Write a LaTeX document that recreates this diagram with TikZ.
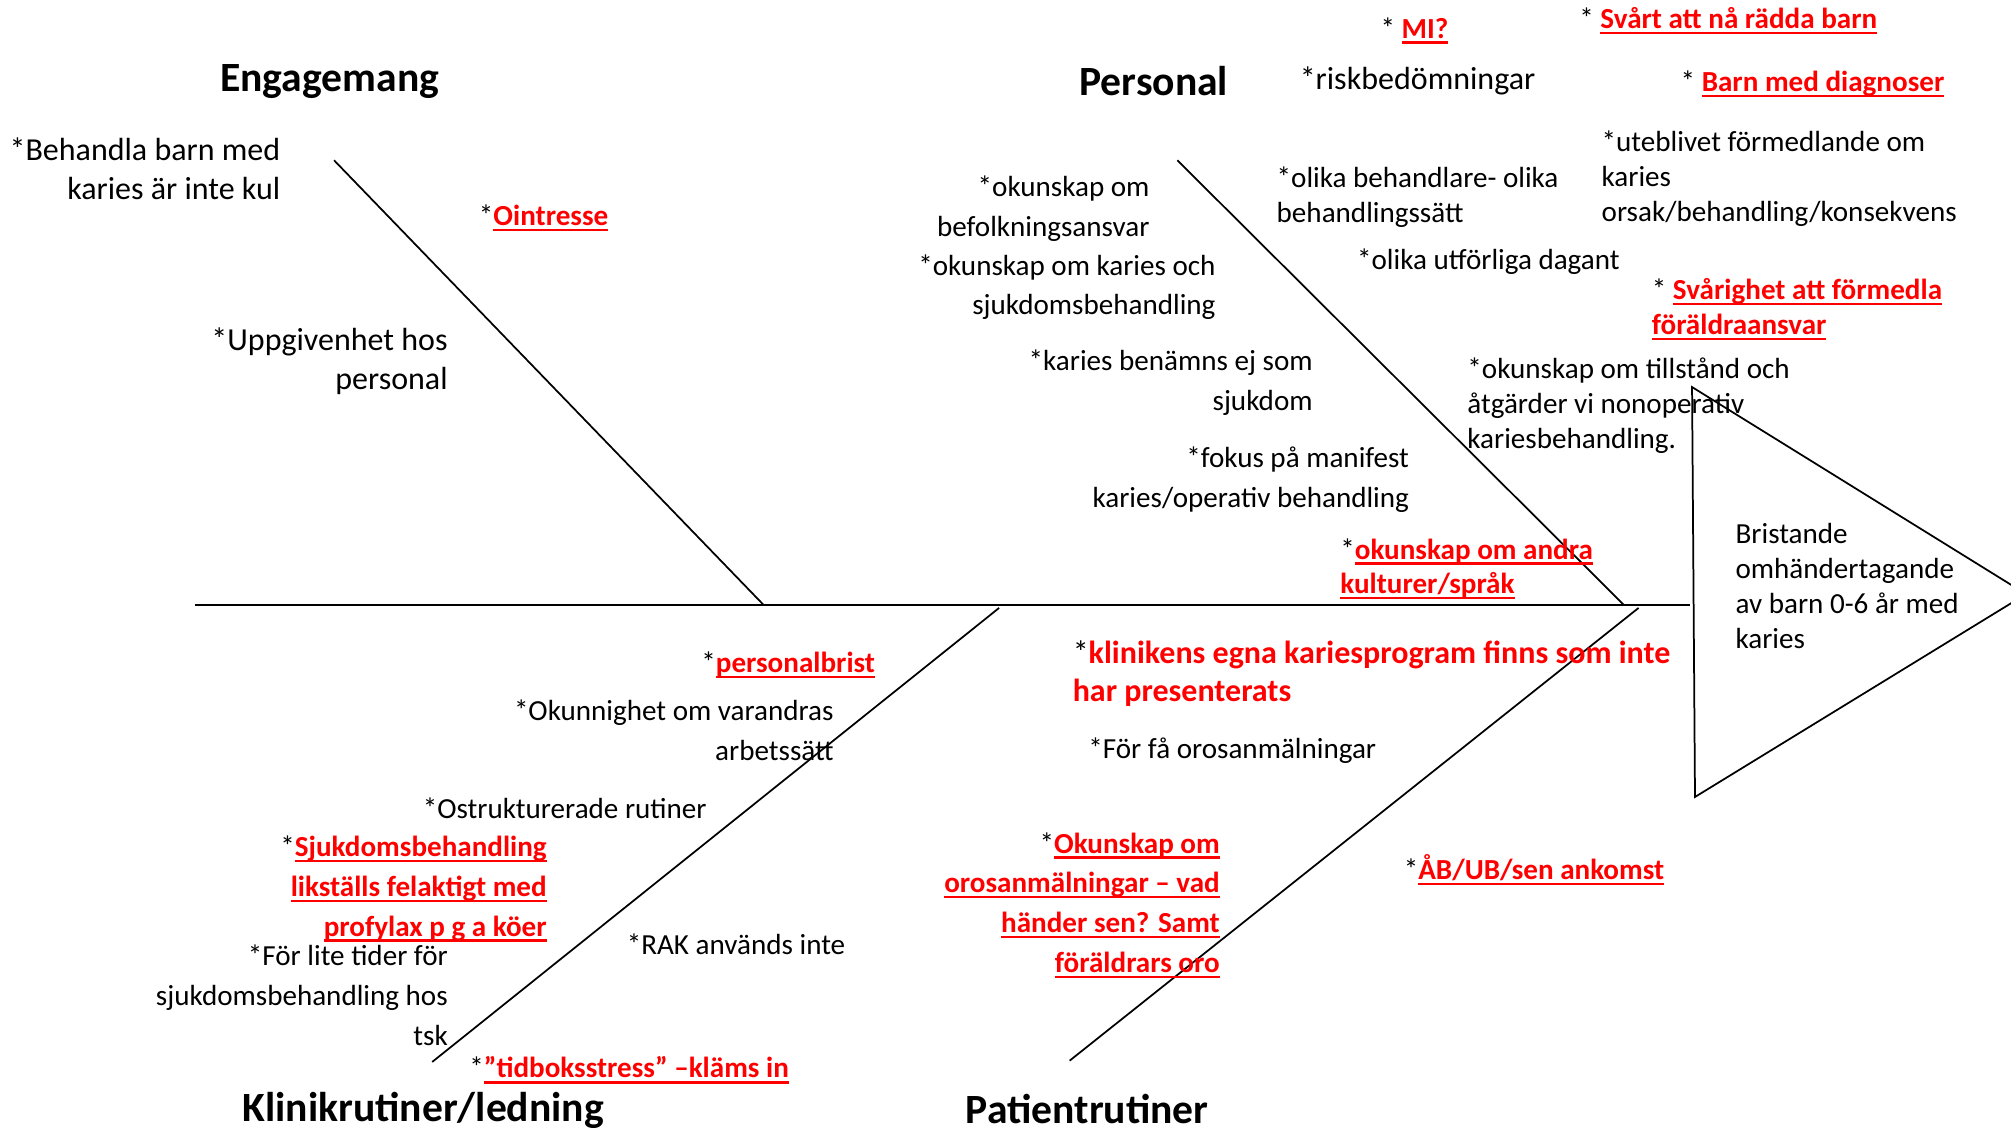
\documentclass[tikz,border=0pt]{standalone}
\usepackage{fontspec}
\setmainfont{Carlito}
\usetikzlibrary{positioning}
\definecolor{myred}{RGB}{255,0,0}
\newsavebox{\redubox}
\newcommand{\redu}[1]{{\color{myred}\bfseries\sbox{\redubox}{#1}\rlap{\rule[-1.9pt]{\wd\redubox}{0.8pt}}\usebox{\redubox}}}

\begin{document}
\begin{tikzpicture}[x=0.4407pt, y=-0.4407pt,
    bone/.style={line width=0.6pt},
    lcause/.style={anchor=base west, align=left, inner sep=0pt, font=\fontsize{10}{13.7}\selectfont},
    rcause/.style={anchor=base east, align=right, inner sep=0pt, font=\fontsize{10}{13.7}\selectfont},
    tight/.style={font=\fontsize{10}{12}\selectfont},
    large/.style={font=\fontsize{11}{13.4}\selectfont},
    category/.style={anchor=base, inner sep=0pt, font=\bfseries\fontsize{14.3}{17}\selectfont}]
    \clip (0,0) rectangle (1568,881);
    % (multi-line causes are placed by the baseline of their last line)

    % Spine and head
    \coordinate (tail) at (152,472);
    \coordinate (head) at (1318,472);
    \coordinate (tri-a) at (1319.3,301.8);
    \coordinate (tri-b) at (1321.6,621.4);
    \coordinate (tri-tip) at (1579.7,463.2);
    \draw[bone] (tail) -- (head);
    \draw[bone] (tri-a) -- (tri-tip) -- (tri-b) -- cycle;
    \node[lcause, tight] (bristande) at (1352.8,505.5) {Bristande\\omhändertagande\\av barn 0-6 år med\\karies};

    % Bones
    \coordinate (eng-top) at (260.5,125);
    \coordinate (eng-foot) at (595.7,472);
    \coordinate (pers-top) at (918,125);
    \coordinate (pers-foot) at (1266.5,472);
    \coordinate (klin-foot) at (779,474);
    \coordinate (klin-end) at (337,828);
    \coordinate (pat-foot) at (1277.6,474);
    \coordinate (pat-end) at (834,827);
    \draw[bone] (eng-top) -- (eng-foot);
    \draw[bone] (pers-top) -- (pers-foot);
    \draw[bone] (klin-foot) -- (klin-end);
    \draw[bone] (pat-foot) -- (pat-end);

    % Engagemang
    \node[category] (engagemang) at (257,71.6) {Engagemang};
    \node[rcause, large] (behandla) at (219,155.5) {*Behandla barn med\\karies är inte kul};
    \node[lcause] (ointresse) at (373,176) {*\redu{Ointresse}};
    \node[rcause, large] (uppgivenhet) at (349.5,303.8) {*Uppgivenhet hos\\personal};

    % Personal
    \node[category] (personal) at (899.6,74.6) {Personal};
    \node[lcause] (mi) at (1076,29.8) {* \redu{MI?}};
    \node[lcause, large] (risk) at (1013,70) {*riskbedömningar};
    \node[lcause] (svart) at (1231,22.4) {* \redu{Svårt att nå rädda barn}};
    \node[lcause] (diagnoser) at (1310,71.6) {* \redu{Barn med diagnoser}};
    \node[lcause, tight] (uteblivet) at (1248.4,172.5) {*uteblivet förmedlande om\\karies\\orsak/behandling/konsekvens};
    \node[rcause] (befolkning) at (896.7,184.5) {*okunskap om\\befolkningsansvar};
    \node[rcause] (kariesoch) at (948.2,245.6) {*okunskap om karies och\\sjukdomsbehandling};
    \node[lcause, tight] (behandlare) at (995,173.1) {*olika behandlare- olika\\behandlingssätt};
    \node[lcause] (dagant) at (1057.7,210.4) {*olika utförliga dagant};
    \node[lcause, tight] (svarighet) at (1287.5,261.1) {* \redu{Svårighet att förmedla}\\\redu{föräldraansvar}};
    \node[rcause] (benamns) at (1023.9,319.7) {*karies benämns ej som\\sjukdom};
    \node[lcause, tight] (tillstand) at (1143.7,349.7) {*okunskap om tillstånd och\\åtgärder vi nonoperativ\\kariesbehandling.};
    \node[rcause] (fokus) at (1099,395.4) {*fokus på manifest\\karies/operativ behandling};
    \node[lcause, tight] (kulturer) at (1044.7,463.1) {*\redu{okunskap om andra}\\\redu{kulturer/språk}};

    % Klinikrutiner/ledning
    \node[category] (klinik) at (330,874.5) {Klinikrutiner/ledning};
    \node[rcause] (personalbrist) at (682.7,524.5) {*\redu{personalbrist}};
    \node[rcause] (varandras) at (650.4,592.6) {*Okunnighet om varandras\\arbetssätt};
    \node[lcause] (ostrukt) at (329.2,637.9) {*Ostrukturerade rutiner};
    \node[rcause] (likstalls) at (426.7,730) {*\redu{Sjukdomsbehandling}\\\redu{likställs felaktigt med}\\\redu{profylax p g a köer}};
    \node[rcause] (tider) at (349.6,815) {*För lite tider för\\sjukdomsbehandling hos\\tsk};
    \node[lcause] (rak) at (488.3,744.2) {*RAK används inte};
    \node[lcause] (tidbok) at (365.5,840.5) {*\redu{”tidboksstress” –kläms in}};

    % Patientrutiner
    \node[category] (patient) at (847.7,876) {Patientrutiner};
    \node[lcause, font=\fontsize{11}{13.1}\selectfont] (kariesprogram) at (836,547.2) {*\textcolor{myred}{\bfseries klinikens egna kariesprogram finns som inte}\\\textcolor{myred}{\bfseries har presenterats}};
    \node[lcause] (fa) at (848.2,591.1) {*För få orosanmälningar};
    \node[rcause] (orosanm) at (951.5,758.4) {*\redu{Okunskap om}\\\redu{orosanmälningar – vad}\\\redu{händer sen? Samt}\\\redu{föräldrars oro}};
    \node[lcause] (ankomst) at (1094.1,686.1) {*\redu{ÅB/UB/sen ankomst}};
\end{tikzpicture}
\end{document}
